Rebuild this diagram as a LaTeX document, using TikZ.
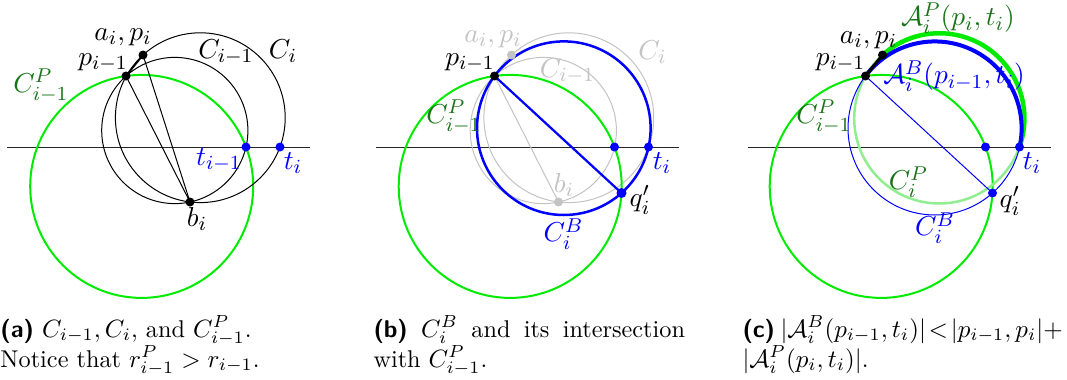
\documentclass[tikz,border=0pt]{standalone}
\usepackage{amsmath}
\definecolor{cgreen}{RGB}{0,235,0}
\definecolor{lgreen}{RGB}{144,238,144}
\definecolor{dgreen}{RGB}{25,115,25}
\definecolor{cgray}{RGB}{195,195,195}
\begin{document}
\begin{tikzpicture}[x=0.4pt,y=-0.4pt,
  lab/.style={inner sep=0pt, font=\fontsize{11}{13}\selectfont},
  captext/.style={inner sep=0pt, anchor=base west, font=\fontsize{9.7}{12}\selectfont},
  axisline/.style={draw=black!85, line width=0.4pt},
  thinc/.style={draw=black, line width=0.4pt},
  grayc/.style={draw=cgray, line width=0.4pt},
  greenc/.style={draw=cgreen, line width=0.8pt},
  bluec/.style={draw=blue, line width=1pt},
  bdot/.style={fill=blue},
  kdot/.style={fill=black},
  gdot/.style={fill=cgray}]
\useasboundingbox (0,0) rectangle (1067,380);

% ---------------- panel (a)
\begin{scope}
\coordinate (a-p) at (126,76);
\coordinate (a-a) at (143,55);
\coordinate (a-b) at (190,202);
\coordinate (a-t1) at (246,147);
\coordinate (a-t) at (280,147);
\coordinate (a-l) at (7,147);
\coordinate (a-r) at (310,147);
\coordinate (a-cp) at (141.7,186.4);
\coordinate (a-c1) at (174.8,130.5);
\coordinate (a-c) at (200.3,117.7);
\draw[axisline] (a-l) -- (a-r);
\draw[greenc] (a-cp) circle[radius=111.5];
\draw[thinc] (a-c1) circle[radius=73.1];
\draw[thinc] (a-c) circle[radius=84.9];
\draw[thinc] (a-p) -- (a-b);
\draw[thinc] (a-a) -- (a-b);
\draw[thinc, line width=0.7pt] (a-p) -- (a-a);
\fill[kdot] (a-p) circle[radius=4.5];
\fill[kdot] (a-a) circle[radius=4.5];
\fill[kdot] (a-b) circle[radius=4.5];
\fill[bdot] (a-t1) circle[radius=4.5];
\fill[bdot] (a-t) circle[radius=4.5];
\node[lab] (a-lap) at (123,37) {$a_i, p_i$};
\node[lab] (a-lp) at (103,63) {$p_{i-1}$};
\node[lab, text=dgreen] (a-lcp) at (41,86) {$C^P_{i-1}$};
\node[lab] (a-lc1) at (226,52) {$C_{i-1}$};
\node[lab] (a-lc) at (283,51) {$C_i$};
\node[lab, text=blue] (a-lt1) at (219,160) {$t_{i-1}$};
\node[lab, text=blue] (a-lt) at (293,163) {$t_i$};
\node[lab] (a-lb) at (197,219) {$b_i$};
\node[captext] (a-cap1) at (0,337) {\textsf{\textbf{(a)}} $C_{i-1}, C_i$, and $C^P_{i-1}$.};
\node[captext] (a-cap2) at (0,367) {Notice that $r^P_{i-1} > r_{i-1}$.};
\end{scope}

% ---------------- panel (b)
\begin{scope}[shift={(368.5,0)}]
\coordinate (b-p) at (126,76);
\coordinate (b-a) at (143,55);
\coordinate (b-b) at (190,202);
\coordinate (b-t1) at (246,147);
\coordinate (b-t) at (280,147);
\coordinate (b-q) at (253,193);
\coordinate (b-l) at (7,147);
\coordinate (b-r) at (310,147);
\coordinate (b-cp) at (141.7,186.4);
\coordinate (b-c1) at (174.8,130.5);
\coordinate (b-c) at (200.3,117.7);
\coordinate (b-cb) at (195.3,128.2);
\draw[axisline] (b-l) -- (b-r);
\draw[grayc] (b-c1) circle[radius=73.1];
\draw[grayc] (b-c) circle[radius=84.9];
\draw[grayc] (b-p) -- (b-b);
\draw[greenc] (b-cp) circle[radius=111.5];
\draw[bluec] (b-cb) circle[radius=86.8];
\draw[bluec, line width=0.9pt] (b-p) -- (b-q);
\fill[gdot] (b-a) circle[radius=4.5];
\fill[gdot] (b-b) circle[radius=4.5];
\fill[kdot] (b-p) circle[radius=4.5];
\fill[bdot] (b-t1) circle[radius=4.5];
\fill[bdot] (b-t) circle[radius=4.5];
\fill[bdot] (b-q) circle[radius=5];
\node[lab, text=cgray] (b-lap) at (124.5,39) {$a_i, p_i$};
\node[lab] (b-lp) at (101.5,63) {$p_{i-1}$};
\node[lab, text=cgray] (b-lc1) at (199,71) {$C_{i-1}$};
\node[lab, text=cgray] (b-lc) at (284,52) {$C_i$};
\node[lab, text=cgray] (b-lb) at (195.5,185) {$b_i$};
\node[lab, text=dgreen] (b-lcp) at (85.5,117) {$C^P_{i-1}$};
\node[lab, text=blue] (b-lcb) at (195,234) {$C^B_i$};
\node[lab] (b-lq) at (271.5,200) {$q'_i$};
\node[lab, text=blue] (b-lt) at (293.5,163) {$t_i$};
\node[captext] (b-cap1) at (4.5,337) {\makebox[124.6pt][s]{\textsf{\textbf{(b)}} $C^B_i$ and its intersection}};
\node[captext] (b-cap2) at (4.5,367) {with $C^P_{i-1}$.};
\end{scope}

% ---------------- panel (c)
\begin{scope}[shift={(739.5,0)}]
\coordinate (c-p) at (126,76);
\coordinate (c-a) at (143,55);
\coordinate (c-t1) at (246,147);
\coordinate (c-t) at (280,147);
\coordinate (c-q) at (253,193);
\coordinate (c-l) at (8,147);
\coordinate (c-r) at (311,147);
\coordinate (c-cp) at (141.7,186.4);
\coordinate (c-ci) at (199.8,118.4);
\coordinate (c-cb) at (195.3,128.2);
\draw[axisline] (c-l) -- (c-r);
\draw[greenc] (c-cp) circle[radius=111.5];
\draw[draw=lgreen, line width=1pt] (c-ci) circle[radius=85.1];
\draw[draw=blue, line width=0.4pt] (c-cb) circle[radius=86.8];
\draw[draw=blue, line width=0.4pt] (c-p) -- (c-q);
\draw[draw=cgreen, line width=1.8pt] (c-a) arc[start angle=-131.9, end angle=19.6, radius=85.1];
\draw[draw=blue, line width=1.6pt] (c-p) arc[start angle=-143.0, end angle=12.5, radius=86.8];
\draw[draw=black, line width=1.2pt] (c-p) -- (c-a);
\fill[kdot] (c-p) circle[radius=4.5];
\fill[kdot] (c-a) circle[radius=4.5];
\fill[bdot] (c-t1) circle[radius=4.5];
\fill[bdot] (c-t) circle[radius=4.5];
\fill[bdot] (c-q) circle[radius=4.5];
\node[lab, text=dgreen] (c-lap) at (218.5,18) {$\mathcal{A}^P_i(p_i,t_i)$};
\node[lab] (c-la) at (129,40) {$a_i, p_i$};
\node[lab] (c-lp) at (101,63) {$p_{i-1}$};
\node[lab, text=blue] (c-lab) at (214.5,76) {$\mathcal{A}^B_i(p_{i-1},t_i)$};
\node[lab, text=dgreen] (c-lcp) at (84.5,117) {$C^P_{i-1}$};
\node[lab, text=dgreen] (c-lci) at (169,182) {$C^P_i$};
\node[lab, text=blue] (c-lcb) at (195.5,228) {$C^B_i$};
\node[lab] (c-lq) at (270.5,201) {$q'_i$};
\node[lab, text=blue] (c-lt) at (292.5,163) {$t_i$};
\node[captext] (c-cap1) at (2.5,337) {\thickmuskip=5mu minus 3mu\relax\makebox[124pt][s]{\textsf{\textbf{(c)}} $|\mathcal{A}^B_i(p_{i-1},t_i)| < |p_{i-1},p_i|+$}};
\node[captext] (c-cap2) at (2.5,367) {$|\mathcal{A}^P_i(p_i,t_i)|$.};
\end{scope}
\end{tikzpicture}
\end{document}
